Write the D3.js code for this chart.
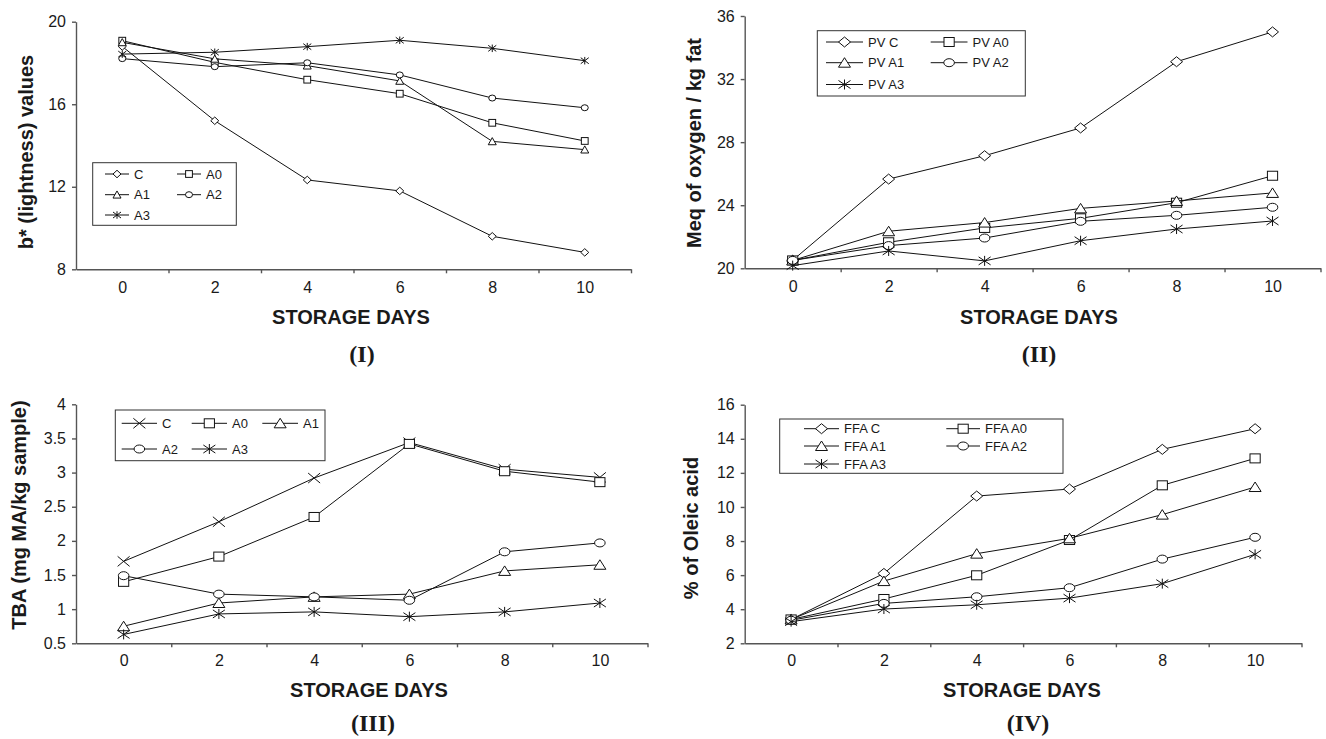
<!DOCTYPE html>
<html>
<head>
<meta charset="utf-8">
<script src="https://cdn.jsdelivr.net/npm/d3@7"></script>
<style>
  body { margin: 0; background: #fff; }
  svg text { font-family: "Liberation Sans", Arial, sans-serif; fill: #1a1a1a; }
  .axis path, .axis line { stroke: #555; stroke-width: 1.4; }
  .axis text { font-size: 16px; }
  .ttl { font-size: 20px; font-weight: bold; }
  .lbl { font-family: "Liberation Serif", "Times New Roman", serif !important; font-size: 24px; font-weight: bold; }
  .leg text { font-size: 13px; }
</style>
</head>
<body>
<div id="chart"></div>
<script>
// storage days (x categories)
var days = [0, 2, 4, 6, 8, 10];

// (I) b* (lightness) values
var bC  = [18.8, 15.2, 12.33, 11.8, 9.6, 8.82];
var bA0 = [19.08, 18.03, 17.19, 16.51, 15.1, 14.22];
var bA1 = [19.0, 18.2, 17.87, 17.13, 14.2, 13.8];
var bA2 = [18.21, 17.82, 18.01, 17.42, 16.3, 15.83];
var bA3 = [18.43, 18.52, 18.79, 19.1, 18.71, 18.11];
var bTicks = [8, 12, 16, 20];
var bNames = ["C", "A0", "A1", "A2", "A3"];

// (II) peroxide value, meq oxygen / kg fat
var pvC  = [20.51, 25.66, 27.14, 28.9, 33.1, 34.99];
var pvA0 = [20.5, 21.65, 22.56, 23.17, 24.16, 25.87];
var pvA1 = [20.5, 22.35, 22.9, 23.8, 24.27, 24.78];
var pvA2 = [20.5, 21.44, 21.92, 22.98, 23.36, 23.87];
var pvA3 = [20.17, 21.1, 20.47, 21.75, 22.49, 23.0];
var pvTicks = [20, 24, 28, 32, 36];
var pvNames = ["PV C", "PV A0", "PV A1", "PV A2", "PV A3"];

// (III) TBA, mg MA / kg sample
var tbaC  = [1.7, 2.28, 2.92, 3.44, 3.05, 2.93];
var tbaA0 = [1.4, 1.77, 2.35, 3.42, 3.02, 2.86];
var tbaA1 = [0.75, 1.09, 1.18, 1.22, 1.56, 1.65];
var tbaA2 = [1.49, 1.22, 1.18, 1.13, 1.84, 1.97];
var tbaA3 = [0.63, 0.93, 0.96, 0.89, 0.96, 1.09];
var tbaTicks = [0.5, 1, 1.5, 2, 2.5, 3, 3.5, 4];
var tbaNames = ["C", "A0", "A1", "A2", "A3"];

// (IV) FFA, % oleic acid
var ffaC  = [3.4, 6.1, 10.64, 11.05, 13.38, 14.59];
var ffaA0 = [3.4, 4.6, 5.99, 8.06, 11.27, 12.85];
var ffaA1 = [3.4, 5.65, 7.26, 8.16, 9.55, 11.17];
var ffaA2 = [3.35, 4.34, 4.73, 5.26, 6.94, 8.22];
var ffaA3 = [3.27, 4.01, 4.26, 4.65, 5.5, 7.22];
var ffaTicks = [2, 4, 6, 8, 10, 12, 14, 16];
var ffaNames = ["FFA C", "FFA A0", "FFA A1", "FFA A2", "FFA A3"];

var svg = d3.select("#chart").append("svg")
  .attr("width", 1326)
  .attr("height", 739);

// draw one marker shape centred on 0,0
function marker(g, type, w, h) {
  var a = w / 2, b = h / 2;
  g.attr("fill", "#fff").attr("stroke", "#111").attr("stroke-width", 1);
  if (type == "diamond") {
    g.append("path").attr("d", `M0,${-b}L${a},0L0,${b}L${-a},0Z`);
  } else if (type == "square") {
    g.append("rect").attr("x", -a * 0.85).attr("y", -b * 0.9).attr("width", a * 1.7).attr("height", b * 1.8);
  } else if (type == "triangle") {
    g.append("path").attr("d", `M0,${-b}L${a},${b * 0.9}L${-a},${b * 0.9}Z`);
  } else if (type == "circle") {
    g.append("ellipse").attr("rx", a * 0.88).attr("ry", b * 0.8);
  } else if (type == "x") {
    g.append("path").attr("d", `M${-a},${-b}L${a},${b}M${-a},${b}L${a},${-b}`);
  } else if (type == "star") {
    g.append("path").attr("d", `M${-a},${-b * 0.8}L${a},${b * 0.8}M${-a},${b * 0.8}L${a},${-b * 0.8}M0,${-b}L0,${b}`);
  }
}

function drawPanel(p) {
  var x = d3.scaleLinear().domain([-1, 11]).range([p.left, p.right]);
  var y = d3.scaleLinear().domain(p.yDomain).range([p.bottom, p.top]);

  // x axis: labels at the days, tick marks between categories
  svg.append("g").attr("class", "axis")
    .attr("transform", `translate(0, ${p.bottom})`)
    .call(d3.axisBottom(x).tickValues([1, 3, 5, 7, 9, 11]).tickFormat("").tickSize(4).tickSizeOuter(0));
  svg.append("g").attr("class", "axis")
    .attr("transform", `translate(0, ${p.bottom})`)
    .call(d3.axisBottom(x).tickValues(days).tickSize(0).tickPadding(p.xPad))
    .call(g => g.select(".domain").remove());

  svg.append("g").attr("class", "axis")
    .attr("transform", `translate(${p.left}, 0)`)
    .call(d3.axisLeft(y).tickValues(p.yTicks).tickSize(4).tickSizeOuter(0).tickPadding(6).tickFormat(d3.format("")));

  var line = d3.line().x((d, i) => x(days[i])).y(d => y(d));

  p.series.forEach(function(s, k) {
    svg.append("path").datum(s)
      .attr("d", line)
      .attr("fill", "none")
      .attr("stroke", "#111")
      .attr("stroke-width", 1);
    svg.append("g").selectAll("g")
      .data(s)
      .enter().append("g")
      .attr("transform", (d, i) => `translate(${x(days[i])}, ${y(d)})`)
      .each(function() { marker(d3.select(this), p.markers[k], p.mw, p.mh); });
  });

  // legend
  var lg = svg.append("g").attr("class", "leg");
  lg.append("rect")
    .attr("x", p.leg.box[0]).attr("y", p.leg.box[1])
    .attr("width", p.leg.box[2] - p.leg.box[0]).attr("height", p.leg.box[3] - p.leg.box[1])
    .attr("fill", "#fff").attr("stroke", "#333").attr("stroke-width", 1);
  p.names.forEach(function(name, k) {
    var col = k % p.leg.cols, row = Math.floor(k / p.leg.cols);
    var x0 = p.leg.lineX[col][0], x1 = p.leg.lineX[col][1], ly = p.leg.rows[row];
    lg.append("line").attr("x1", x0).attr("x2", x1).attr("y1", ly).attr("y2", ly)
      .attr("stroke", "#111").attr("stroke-width", 1);
    var m = lg.append("g").attr("transform", `translate(${(x0 + x1) / 2}, ${ly})`);
    marker(m, p.markers[k], p.lmw, p.lmh);
    lg.append("text").attr("x", x1 + 5).attr("y", ly).attr("dy", "0.36em").text(name);
  });

  // axis titles and panel label
  svg.append("text").attr("class", "ttl")
    .attr("transform", `translate(${p.yTitle[0]}, ${p.yTitle[1]}) rotate(-90)`)
    .attr("text-anchor", "middle").attr("dy", "0.36em")
    .text(p.yLabel);
  svg.append("text").attr("class", "ttl")
    .attr("x", p.xTitle[0]).attr("y", p.xTitle[1])
    .attr("text-anchor", "middle")
    .text("STORAGE DAYS");
  svg.append("text").attr("class", "lbl")
    .attr("x", p.tag[0]).attr("y", p.tag[1])
    .attr("text-anchor", "middle")
    .text(p.tagText);
}

drawPanel({
  left: 76, right: 631, top: 21.7, bottom: 269.3, xPad: 12,
  yDomain: [8, 20], yTicks: bTicks,
  series: [bC, bA0, bA1, bA2, bA3], names: bNames,
  markers: ["diamond", "square", "triangle", "circle", "star"],
  mw: 8, mh: 7.5, lmw: 8, lmh: 7.5,
  leg: { box: [92.7, 162.7, 236.3, 225.3], cols: 2, rows: [174, 194.7, 215], lineX: [[105, 129], [177, 201]] },
  yLabel: "b* (lightness) values", yTitle: [26, 152],
  xTitle: [351, 324], tag: [362, 362], tagText: "(I)"
});

drawPanel({
  left: 744.7, right: 1320.5, top: 16, bottom: 268.3, xPad: 12,
  yDomain: [20, 36], yTicks: pvTicks,
  series: [pvC, pvA0, pvA1, pvA2, pvA3], names: pvNames,
  markers: ["diamond", "square", "triangle", "circle", "star"],
  mw: 12, mh: 10, lmw: 12, lmh: 10,
  leg: { box: [817.3, 30.7, 1025.3, 96], cols: 2, rows: [42, 62.7, 84.5], lineX: [[826, 863], [930.7, 967.5]] },
  yLabel: "Meq of oxygen / kg fat", yTitle: [694, 143],
  xTitle: [1039, 324], tag: [1039, 362], tagText: "(II)"
});

drawPanel({
  left: 76, right: 647.5, top: 404.3, bottom: 643.3, xPad: 11,
  yDomain: [0.5, 4], yTicks: tbaTicks,
  series: [tbaC, tbaA0, tbaA1, tbaA2, tbaA3], names: tbaNames,
  markers: ["x", "square", "triangle", "circle", "star"],
  mw: 12, mh: 10, lmw: 12, lmh: 10,
  leg: { box: [115.3, 410, 325, 460.7], cols: 3, rows: [423.3, 449], lineX: [[121.7, 157], [191.7, 227], [262.3, 298]] },
  yLabel: "TBA (mg MA/kg sample)", yTitle: [19, 515],
  xTitle: [369, 697], tag: [373, 731], tagText: "(III)"
});

drawPanel({
  left: 744.7, right: 1301.5, top: 404.7, bottom: 643.3, xPad: 11,
  yDomain: [2, 16], yTicks: ffaTicks,
  series: [ffaC, ffaA0, ffaA1, ffaA2, ffaA3], names: ffaNames,
  markers: ["diamond", "square", "triangle", "circle", "star"],
  mw: 12, mh: 10, lmw: 12, lmh: 10,
  leg: { box: [779.7, 419, 1063, 473.3], cols: 2, rows: [428.7, 446, 464], lineX: [[804, 839], [946.3, 980]] },
  yLabel: "% of Oleic acid", yTitle: [691, 528],
  xTitle: [1022, 697], tag: [1028, 731], tagText: "(IV)"
});
</script>
</body>
</html>
